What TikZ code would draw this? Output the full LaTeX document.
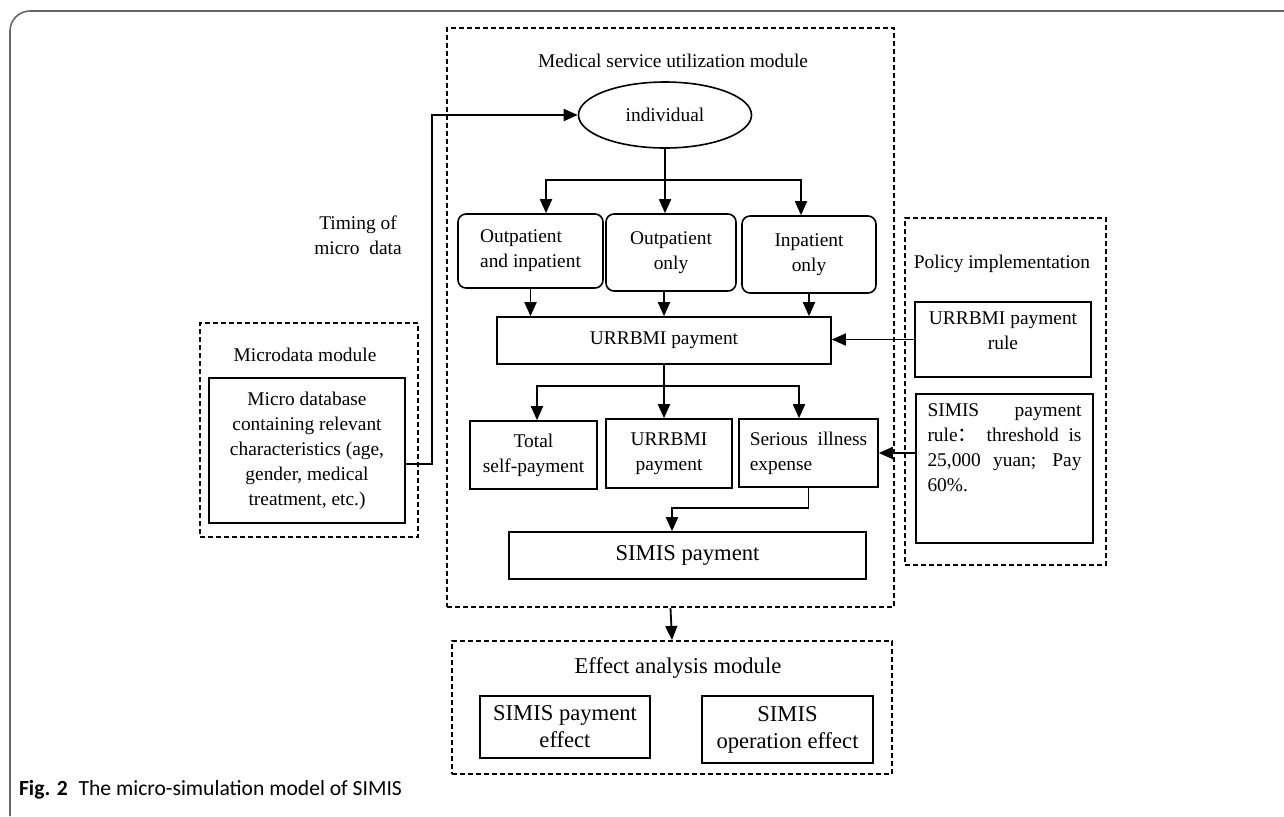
\documentclass[tikz,border=0pt]{standalone}
\usepackage{fontspec}
\setmainfont{Liberation Serif}
\newfontfamily\cjk{Noto Sans CJK SC}
\newfontfamily\capfont{Carlito}
\usetikzlibrary{shapes.geometric, arrows.meta, positioning, calc}

\begin{document}
\begin{tikzpicture}[
  x=0.5pt, y=-0.5pt,
  every node/.style={font=\fontsize{9.7}{12.5}\selectfont},
  module/.style={rectangle, draw, dash pattern=on 2.5pt off 1.5pt,
    line width=1pt, inner sep=0pt},
  cell/.style={rectangle, draw, line width=0.8pt, align=center, inner sep=2pt},
  rcell/.style={cell, rounded corners=4pt},
  big/.style={font=\fontsize{11.3}{13.5}\selectfont},
  flow/.style={-{Triangle[length=7pt, width=6pt]}, line width=0.9pt},
  wire/.style={line width=0.9pt}
]
  \useasboundingbox (0,0) rectangle (1284,816);
  \draw[black!60, line width=0.8pt, rounded corners=10pt] (10,816) -- (10,11) -- (1284,11);

  % modules
  \node[module, minimum width=223.5pt, minimum height=289.5pt] (medmod) at (670.5,317.5) {};
  \node[module, minimum width=109pt, minimum height=107pt] (micromod) at (309,430) {};
  \node[module, minimum width=100.5pt, minimum height=173.5pt] (polmod) at (1005.5,391.5) {};
  \node[module, minimum width=220pt, minimum height=66.5pt] (effmod) at (672,707.5) {};

  \node (medtitle) at (673,61) {Medical service utilization module};
  \node (microtitle) at (305,355) {Microdata module};
  \node (poltitle) at (1002,264) {Policy implementation};
  \node[big] (efftitle) at (678,668) {Effect analysis module};
  \node[align=center] (timing) at (358,235) {Timing of\\micro~ data};

  % microdata
  \node[cell, minimum width=98pt, minimum height=72.5pt] (microdb) at (307,450.5)
    {Micro database\\containing relevant\\characteristics (age,\\gender, medical\\treatment, etc.)};

  % medical service utilization
  \node[ellipse, draw, line width=0.8pt, minimum width=86.5pt, minimum height=33pt] (indiv) at (665,115) {individual};
  \node[rcell, minimum width=72.5pt, minimum height=37pt, align=left] (both) at (530.5,251) {Outpatient\\and inpatient};
  \node[rcell, minimum width=65pt, minimum height=38.5pt] (outonly) at (671,252.5) {Outpatient\\only};
  \node[rcell, minimum width=67pt, minimum height=38.5pt] (inonly) at (809,254.5) {Inpatient\\only};
  \node[cell, minimum width=167pt, minimum height=23.5pt] (pay) at (664,340.5) {URRBMI payment};
  \node[cell, minimum width=63.5pt, minimum height=34pt] (total) at (533.5,455) {Total\\self-payment};
  \node[cell, minimum width=63pt, minimum height=34.5pt] (urpay) at (669,453.5) {URRBMI\\payment};
  \node[cell, minimum width=69.5pt, minimum height=34pt, align=left] (serious) at (808.5,453) {Serious~ illness\\expense};
  \node[cell, big, minimum width=178.5pt, minimum height=23.5pt] (simis) at (687.5,555.5) {SIMIS payment};

  % policy implementation
  \node[cell, minimum width=88pt, minimum height=37.5pt, inner sep=5pt] (urrule) at (1003,339.5)
    {\parbox[c][27.5pt][t]{78pt}{\centering URRBMI payment\\rule}};
  \node[cell, minimum width=88.5pt, minimum height=74.5pt, inner sep=5pt] (simisrule) at (1004.5,468.5)
    {\parbox[c][64.5pt][t]{77pt}{\makebox[77pt][s]{SIMIS payment}\\
      \makebox[77pt][s]{rule{\cjk ：} threshold is}\\
      \makebox[77pt][s]{25,000 yuan; Pay}\\
      60\%.}};

  % effect analysis
  \node[cell, big, minimum width=85pt, minimum height=31pt] (effpay) at (565,727) {SIMIS payment\\effect};
  \node[cell, big, minimum width=85.5pt, minimum height=33.5pt] (effop) at (787.5,729.5) {SIMIS\\operation effect};

  % connectors
  \coordinate (bend) at (432,464);
  \draw[flow] (microdb.east |- bend) -- (bend) |- (indiv.west);

  \coordinate (split1) at (665,180);
  \draw[wire] (indiv.south) -- (split1);
  \draw[flow] (split1) -| ([shift={(15.5,0)}]both.north);
  \draw[flow] (split1) -- (split1 |- outonly.north);
  \draw[flow] (split1) -| ([shift={(-8,0)}]inonly.north);

  \draw[flow] (both.south) -- (both.south |- pay.north);
  \draw[flow] (outonly.south -| pay.north) -- (pay.north);
  \draw[flow] (inonly.south) -- (inonly.south |- pay.north);
  \draw[flow] (urrule.west) -- (urrule.west -| pay.east);

  \coordinate (split2) at (664,386);
  \draw[wire] (pay.south) -- (split2);
  \draw[flow] (split2) -| ([shift={(3.5,0)}]total.north);
  \draw[flow] (split2) -- (split2 |- urpay.north);
  \draw[flow] (split2) -| ([shift={(-9.5,0)}]serious.north);

  \draw[flow] (simisrule.west |- serious.east) -- (serious.east);
  \draw[flow] (serious.south) -- ++(0,20) -| ([shift={(-15.5,0)}]simis.north);
  \draw[flow] (medmod.south) -- (effmod.north);

  \node[anchor=base west, font=\capfont\fontsize{10.8}{13}\selectfont] (caption) at (12,795)
    {\textbf{Fig. 2}\enspace The micro-simulation model of SIMIS};
\end{tikzpicture}
\end{document}
